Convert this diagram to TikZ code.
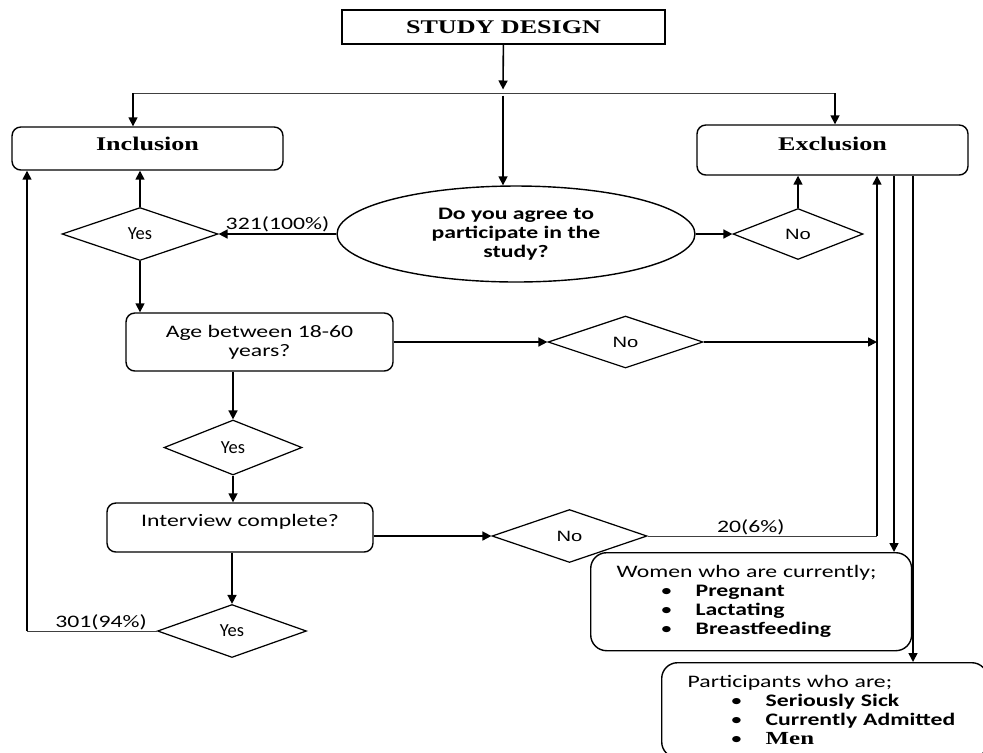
\documentclass[tikz,border=0pt]{standalone}
\usepackage{fontspec}
\setmainfont{Carlito}
\newfontfamily\calfont[FakeStretch=1.35]{Carlito}
\newfontfamily\titlefont[FakeStretch=1.35]{Liberation Serif}
\newfontfamily\nofont[FakeStretch=1.35]{Liberation Sans}
\usetikzlibrary{shapes.geometric,arrows.meta}

\begin{document}
\begin{tikzpicture}[x=0.02cm, y=-0.02cm,
    arr/.style={-{Triangle[length=1.8mm,width=1.8mm]}, line width=0.9pt},
    thinline/.style={line width=0.55pt, black!75},
    headbox/.style={draw, line width=0.8pt, font=\titlefont\fontsize{11}{13}\selectfont\bfseries},
    roundbox/.style={draw, rounded corners=5pt, line width=0.8pt, align=center, font=\calfont\fontsize{10}{10.8}\selectfont},
    decision/.style={draw, diamond, inner sep=0pt, line width=0.7pt},
    yesdec/.style={decision, font=\fontsize{10.5}{12}\selectfont},
    nodec/.style={decision, font=\nofont\fontsize{8.5}{10}\selectfont},
    listbox/.style={draw, rounded corners=9pt, line width=0.8pt, align=left, inner xsep=0.52cm, font=\calfont\fontsize{10}{10.8}\selectfont},
    numlabel/.style={font=\calfont\fontsize{10}{12}\selectfont, inner sep=0.5pt}]

    % Page frame, same size as the reference
    \clip (0,0) rectangle (983,752);

    % Top of the chart
    \node[headbox, minimum width=6.46cm, minimum height=0.68cm] (design) at (503.5,27) {STUDY DESIGN};
    \node[roundbox, minimum width=5.42cm, minimum height=0.86cm, text depth=0.2cm, font=\titlefont\fontsize{11}{13}\selectfont\bfseries] (incl) at (147.5,148.5) {Inclusion};
    \node[roundbox, minimum width=5.42cm, minimum height=1.0cm, text depth=0.26cm, font=\titlefont\fontsize{11}{13}\selectfont\bfseries] (excl) at (832.5,150) {Exclusion};

    % First question and its answers
    \node[draw, ellipse, line width=0.8pt, minimum width=7.16cm, minimum height=1.92cm, align=center,
          font=\calfont\fontsize{10}{11}\selectfont\bfseries] (agree) at (516,234)
          {Do you agree to\\participate in the\\study?};
    \node[yesdec, minimum width=3.12cm, minimum height=1.06cm] (yesA) at (140,234) {Yes};
    \node[nodec, minimum width=2.6cm, minimum height=1.02cm] (noA) at (798,234) {No};

    % Age question
    \node[roundbox, minimum width=5.34cm, minimum height=1.16cm] (age) at (259.5,342) {Age between 18-60\\years?};
    \node[nodec, minimum width=3.1cm, minimum height=1.04cm] (noB) at (625.5,342) {No};
    \node[yesdec, minimum width=2.76cm, minimum height=1.1cm] (yesB) at (233,447.5) {Yes};

    % Interview question
    \node[roundbox, minimum width=5.32cm, minimum height=0.98cm, text depth=0.28cm] (intv) at (240,527.5) {Interview complete?};
    \node[nodec, minimum width=3.1cm, minimum height=1.06cm] (noC) at (569.5,536) {No};
    \node[yesdec, minimum width=2.98cm, minimum height=1.06cm] (yesC) at (232,631) {Yes};

    % Exclusion lists
    \node[listbox, text width=5.38cm, minimum height=1.96cm, anchor=north west] (women) at (590,552)
        {Women who are currently;\\
         \hspace*{0.88cm}\makebox[0.7cm][l]{\textbullet}\textbf{Pregnant}\\
         \hspace*{0.88cm}\makebox[0.7cm][l]{\textbullet}\textbf{Lactating}\\
         \hspace*{0.88cm}\makebox[0.7cm][l]{\textbullet}\textbf{Breastfeeding}};
    \node[listbox, text width=5.48cm, minimum height=1.9cm, anchor=north west] (parts) at (661,662)
        {Participants who are;\\
         \hspace*{0.86cm}\makebox[0.7cm][l]{\textbullet}\textbf{Seriously Sick}\\
         \hspace*{0.86cm}\makebox[0.7cm][l]{\textbullet}\textbf{Currently Admitted}\\
         \hspace*{0.86cm}\makebox[0.7cm][l]{\textbullet}{\titlefont\bfseries\fontsize{10.5}{10.8}\selectfont Men}};

    % Turning points of the connectors
    \coordinate (hub) at (503,93);
    \coordinate (lft) at (133,93);
    \coordinate (rgt) at (835,93);
    \coordinate (colB) at (877,342);
    \coordinate (colC) at (877,536);
    \coordinate (back) at (27,631);
    \coordinate (dW) at (894,0);
    \coordinate (dP) at (913,0);

    % Split below the title
    \draw[arr, shorten >=2pt] (design) -- (hub);
    \draw[thinline] (lft) -- (rgt);
    \draw[arr] (lft) -- (lft |- incl.north);
    \draw[arr] (rgt) -- (rgt |- excl.north);
    \draw[arr] ([yshift=-0.05cm]hub) -- (hub |- agree.north);

    % Answers to the first question
    \draw[arr] (agree) -- node[numlabel, above]{321(100\%)} (yesA);
    \draw[arr] (agree) -- (noA);
    \draw[arr] (yesA) -- (yesA |- incl.south);
    \draw[arr] (noA) -- (noA |- excl.south);
    \draw[arr] (yesA) -- (yesA |- age.north);

    % Age branch
    \draw[arr] (age) -- (noB);
    \draw[arr] (noB) -- (colB);
    \draw[arr] (yesB |- age.south) -- (yesB);
    \draw[arr] (yesB) -- (yesB |- intv.north);

    % Interview branch
    \draw[arr] (intv.east |- noC) -- (noC);
    \draw[thinline] (noC) -- node[numlabel, above, pos=0.45, black]{20(6\%)} (colC);
    \draw[arr] (colC) -- (colC |- excl.south);
    \draw[arr] (yesC |- intv.south) -- (yesC);
    \draw[thinline] (yesC) -- node[numlabel, above, pos=0.43, black]{301(94\%)} (back);
    \draw[arr] (back) -- (back |- incl.south);

    % Exclusion criteria
    \draw[arr] (dW |- excl.south) -- (dW |- women.north);
    \draw[arr] (dP |- excl.south) -- (dP |- parts.north);

\end{tikzpicture}
\end{document}
